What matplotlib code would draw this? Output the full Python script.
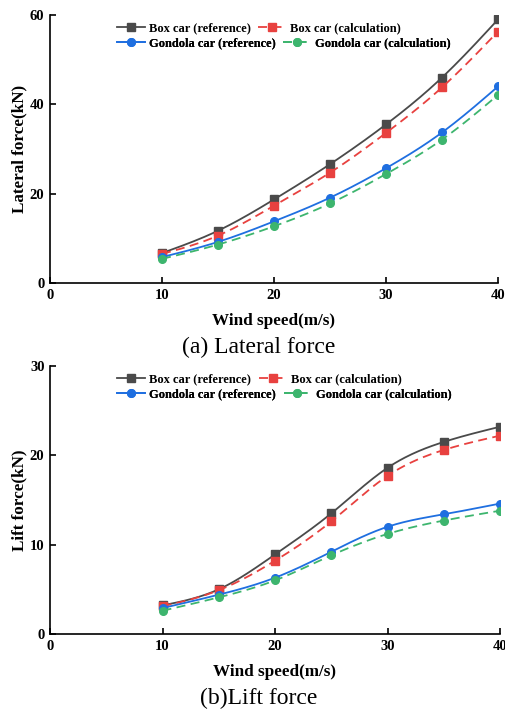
import numpy as np
import matplotlib
matplotlib.use('Agg')
import matplotlib.pyplot as plt
from matplotlib.lines import Line2D

plt.rcParams['font.family'] = ['Liberation Serif', 'DejaVu Serif']

# Wind speed (m/s)
speed = [10, 15, 20, 25, 30, 35, 40]

# Lateral force (kN)
lat_box_ref = [6.7, 11.7, 18.7, 26.6, 35.5, 46.0, 59.0]
lat_box_calc = [6.5, 10.6, 17.3, 24.7, 33.6, 43.8, 56.3]
lat_gon_ref = [5.8, 9.2, 13.8, 19.1, 25.7, 33.7, 44.0]
lat_gon_calc = [5.4, 8.6, 12.7, 17.8, 24.4, 32.1, 42.1]

# Lift force (kN)
lift_box_ref = [3.2, 5.0, 8.9, 13.5, 18.6, 21.5, 23.2]
lift_box_calc = [3.1, 4.9, 8.2, 12.6, 17.7, 20.6, 22.2]
lift_gon_ref = [2.9, 4.4, 6.3, 9.2, 12.0, 13.4, 14.6]
lift_gon_calc = [2.6, 4.1, 6.0, 8.8, 11.2, 12.7, 13.8]

names = ['Box car (reference)', 'Box car (calculation)',
         'Gondola car (reference)', 'Gondola car (calculation)']
colors = ['#4a4a4a', '#e8413f', '#1f6fe0', '#3db56e']
markers = ['s', 's', 'o', 'o']
styles = ['-', (0, (5, 3)), '-', (0, (5, 3))]


def natural_spline(x, y, n=200):
    """Smooth curve through the points (natural cubic spline), for drawing only."""
    x = np.asarray(x, float)
    y = np.asarray(y, float)
    k = len(x)
    h = np.diff(x)
    A = np.zeros((k, k))
    b = np.zeros(k)
    A[0, 0] = A[-1, -1] = 1
    for i in range(1, k - 1):
        A[i, i - 1] = h[i - 1]
        A[i, i] = 2 * (h[i - 1] + h[i])
        A[i, i + 1] = h[i]
        b[i] = 6 * ((y[i + 1] - y[i]) / h[i] - (y[i] - y[i - 1]) / h[i - 1])
    m = np.linalg.solve(A, b)
    xs = np.linspace(x[0], x[-1], n)
    j = np.clip(np.searchsorted(x, xs) - 1, 0, k - 2)
    t = xs - x[j]
    hj = h[j]
    a = (y[j + 1] - y[j]) / hj - hj * (2 * m[j] + m[j + 1]) / 6
    ys = y[j] + a * t + m[j] / 2 * t ** 2 + (m[j + 1] - m[j]) / (6 * hj) * t ** 3
    return xs, ys


def draw_panel(ax, series, ymax, ystep, ylabel):
    for vals, c, mk, ls in zip(series, colors, markers, styles):
        xs, ys = natural_spline(speed, vals)
        ax.plot(xs, ys, color=c, linestyle=ls, linewidth=1.3)
        ax.plot(speed, vals, linestyle='none', marker=mk, color=c, markersize=5.5)
    ax.set_xlim(0, 40)
    ax.set_ylim(0, ymax)
    ax.set_xticks([0, 10, 20, 30, 40])
    ax.set_yticks(np.arange(0, ymax + 1, ystep))
    ax.spines['top'].set_visible(False)
    ax.spines['right'].set_visible(False)
    for s in ('left', 'bottom'):
        ax.spines[s].set_linewidth(1.2)
    ax.tick_params(direction='in', length=4, width=1.2, labelsize=10.5, pad=4)
    for lab in ax.get_xticklabels() + ax.get_yticklabels():
        lab.set_fontweight('bold')
    ax.set_xlabel('Wind speed(m/s)', fontsize=12.3, fontweight='bold', labelpad=8)
    ax.set_ylabel(ylabel, fontsize=12.3, fontweight='bold', labelpad=2)

    handles = [Line2D([], [], color=c, linestyle=ls, marker=mk, markersize=5.5, linewidth=1.3)
               for c, mk, ls in zip(colors, markers, styles)]
    # two rows, each laid out on its own like the original legend
    for row, y in ((0, 0.951), (1, 0.894)):
        leg = ax.legend(handles[2 * row:2 * row + 2], names[2 * row:2 * row + 2],
                        ncol=2, frameon=False, loc='center left',
                        bbox_to_anchor=(0.15, y), handlelength=2.2, handletextpad=0.35,
                        columnspacing=0.6, borderaxespad=0, borderpad=0,
                        prop={'size': 9, 'weight': 'bold'})
        ax.add_artist(leg)


fig = plt.figure(figsize=(5.06, 7.09), dpi=100)
W, H = 506, 709
ax1 = fig.add_axes([50 / W, 1 - 283 / H, 448 / W, 268 / H])
ax2 = fig.add_axes([50 / W, 1 - 634 / H, 450 / W, 268 / H])

draw_panel(ax1, [lat_box_ref, lat_box_calc, lat_gon_ref, lat_gon_calc], 60, 20, 'Lateral force(kN)')
draw_panel(ax2, [lift_box_ref, lift_box_calc, lift_gon_ref, lift_gon_calc], 30, 10, 'Lift force(kN)')

fig.text(259 / W, 1 - 347 / H, '(a) Lateral force', ha='center', va='center', fontsize=17)
fig.text(259 / W, 1 - 698 / H, '(b)Lift force', ha='center', va='center', fontsize=17)

fig.savefig('out.png', dpi=100)
